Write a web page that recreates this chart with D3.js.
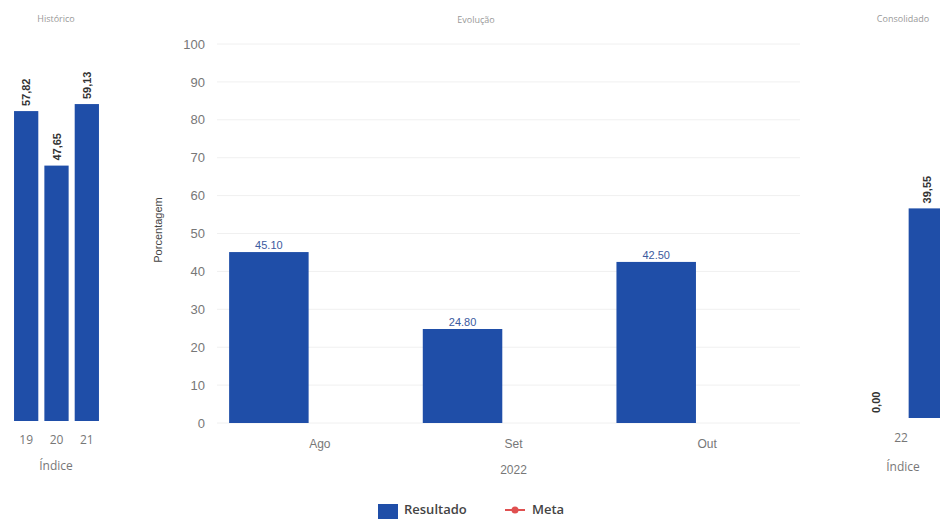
<!DOCTYPE html>
<html><head><meta charset="utf-8">
<script src="https://cdn.jsdelivr.net/npm/d3@7"></script>
<style>
html,body{margin:0;padding:0;background:#fff;}
svg{display:block;}
</style></head>
<body>
<svg id="chart" width="940" height="519"></svg>
<script>
// ---- data ----
const historicoCategories = ["19", "20", "21"];
const historicoValues = [57.82, 47.65, 59.13];

const evolucaoCategories = ["Ago", "Set", "Out"];
const evolucaoSeries = ["Resultado", "Meta"];
const evolucaoResultado = [45.10, 24.80, 42.50];
const evolucaoTicks = [0, 10, 20, 30, 40, 50, 60, 70, 80, 90, 100];
const evolucaoYear = "2022";

const consolidadoCategories = ["22"];
const consolidadoSeries = ["Serie1", "Serie2"];
const consolidadoValues = [0.00, 39.55];

const titles = ["Histórico", "Evolução", "Consolidado"];
const legendItems = ["Resultado", "Meta"];

// ---- styles ----
const BLUE = "#1f4ea8";
const svg = d3.select("#chart");
const fmtComma = d => d.toFixed(2).replace(".", ",");
const fmtDot = d => d.toFixed(2);

// ---- Histórico (left) ----
const xL = d3.scaleBand().domain(historicoCategories).range([11, 102]).paddingInner(0.2).paddingOuter(0.1);
const yL = d3.scaleLinear().domain([0, 70]).range([421, 421 - 70 * 5.36]);
const gL = svg.append("g");
gL.append("text").attr("x", 56).attr("y", 22).attr("text-anchor", "middle")
  .attr("font-family", "Open Sans, sans-serif").attr("font-size", 9).attr("fill", "#999").text(titles[0]);
gL.selectAll("rect").data(historicoValues).join("rect")
  .attr("x", (d, i) => xL(historicoCategories[i])).attr("width", xL.bandwidth())
  .attr("y", d => yL(d)).attr("height", d => yL(0) - yL(d)).attr("fill", BLUE);
gL.selectAll("text.lbl").data(historicoValues).join("text").attr("class", "lbl")
  .attr("transform", (d, i) => `translate(${xL(historicoCategories[i]) + xL.bandwidth() / 2 + 4},${yL(d) - 5}) rotate(-90)`)
  .attr("font-family", "Liberation Sans, Arial, sans-serif").attr("font-weight", "bold").attr("font-size", 11)
  .attr("fill", "#333").text(fmtComma);
const axL = gL.append("g").attr("transform", `translate(0,${yL(0)})`)
  .call(d3.axisBottom(xL).tickSize(0).tickPadding(14));
axL.select(".domain").remove();
axL.selectAll("text").attr("font-family", "Open Sans, sans-serif").attr("font-size", 12).attr("fill", "#777");
gL.append("text").attr("x", 56).attr("y", 470).attr("text-anchor", "middle")
  .attr("font-family", "Open Sans, sans-serif").attr("font-size", 12).attr("fill", "#777").text("Índice");

// ---- Evolução (middle) ----
const xM = d3.scaleBand().domain(evolucaoCategories).range([223, 804]);
const x1M = d3.scaleBand().domain(evolucaoSeries).range([0, xM.bandwidth()]).paddingInner(0.22).paddingOuter(0.06);
const yM = d3.scaleLinear().domain([0, 100]).range([423, 44]);
const gM = svg.append("g");
gM.append("text").attr("x", 476).attr("y", 23).attr("text-anchor", "middle")
  .attr("font-family", "Open Sans, sans-serif").attr("font-size", 9).attr("fill", "#999").text(titles[1]);
// grid
gM.selectAll("line.grid").data(evolucaoTicks).join("line").attr("class", "grid")
  .attr("x1", 217).attr("x2", 800).attr("y1", d => yM(d)).attr("y2", d => yM(d))
  .attr("stroke", "#f0f0f0").attr("stroke-width", 1);
const ayM = gM.append("g").attr("transform", "translate(205,0)")
  .call(d3.axisLeft(yM).tickValues(evolucaoTicks).tickSize(0).tickPadding(0));
ayM.select(".domain").remove();
ayM.selectAll("text").attr("font-family", "Liberation Sans, Arial, sans-serif").attr("font-size", 13).attr("fill", "#777");
gM.append("text").attr("transform", "translate(162,230) rotate(-90)").attr("text-anchor", "middle")
  .attr("font-family", "Liberation Sans, Arial, sans-serif").attr("font-size", 11).attr("fill", "#444").text("Porcentagem");
gM.selectAll("rect").data(evolucaoResultado).join("rect")
  .attr("x", (d, i) => xM(evolucaoCategories[i]) + x1M("Resultado")).attr("width", x1M.bandwidth())
  .attr("y", d => yM(d)).attr("height", d => yM(0) - yM(d)).attr("fill", BLUE);
gM.selectAll("text.lbl").data(evolucaoResultado).join("text").attr("class", "lbl")
  .attr("x", (d, i) => xM(evolucaoCategories[i]) + x1M("Resultado") + x1M.bandwidth() / 2)
  .attr("y", d => yM(d) - 3).attr("text-anchor", "middle")
  .attr("font-family", "Liberation Sans, Arial, sans-serif").attr("font-size", 11).attr("fill", "#3b5a9e").text(fmtDot);
const axM = gM.append("g").attr("transform", `translate(0,${yM(0)})`)
  .call(d3.axisBottom(xM).tickSize(0).tickPadding(16));
axM.select(".domain").remove();
axM.selectAll("text").attr("font-family", "Liberation Sans, Arial, sans-serif").attr("font-size", 12).attr("fill", "#777");
gM.append("text").attr("x", (xM.range()[0] + xM.range()[1]) / 2).attr("y", 474).attr("text-anchor", "middle")
  .attr("font-family", "Liberation Sans, Arial, sans-serif").attr("font-size", 12).attr("fill", "#777").text(evolucaoYear);

// legend
const lg = svg.append("g");
lg.append("rect").attr("x", 378).attr("y", 504).attr("width", 20).attr("height", 15).attr("fill", BLUE);
lg.append("text").attr("x", 404).attr("y", 514).attr("font-family", "Open Sans, sans-serif")
  .attr("font-weight", 600).attr("font-size", 13).attr("fill", "#444").text(legendItems[0]);
lg.append("line").attr("x1", 505).attr("x2", 525).attr("y1", 510).attr("y2", 510).attr("stroke", "#e05050").attr("stroke-width", 2);
lg.append("circle").attr("cx", 515).attr("cy", 510).attr("r", 3.5).attr("fill", "#e05050");
lg.append("text").attr("x", 532).attr("y", 514).attr("font-family", "Open Sans, sans-serif")
  .attr("font-weight", 600).attr("font-size", 13).attr("fill", "#444").text(legendItems[1]);

// ---- Consolidado (right) ----
const xR = d3.scaleBand().domain(consolidadoCategories).range([850, 952]);
const x1R = d3.scaleBand().domain(consolidadoSeries).range([0, xR.bandwidth()]).paddingInner(0.3).paddingOuter(0.15);
const yR = d3.scaleLinear().domain([0, 70]).range([418, 418 - 70 * 5.3]);
const gR = svg.append("g");
gR.append("text").attr("x", 903).attr("y", 22).attr("text-anchor", "middle")
  .attr("font-family", "Open Sans, sans-serif").attr("font-size", 9).attr("fill", "#999").text(titles[2]);
gR.selectAll("rect").data(consolidadoValues).join("rect")
  .attr("x", (d, i) => xR("22") + x1R(consolidadoSeries[i])).attr("width", x1R.bandwidth())
  .attr("y", d => yR(d)).attr("height", d => yR(0) - yR(d)).attr("fill", BLUE);
gR.selectAll("text.lbl").data(consolidadoValues).join("text").attr("class", "lbl")
  .attr("transform", (d, i) => `translate(${xR("22") + x1R(consolidadoSeries[i]) + x1R.bandwidth() / 2 + 4},${yR(d) - 5}) rotate(-90)`)
  .attr("font-family", "Liberation Sans, Arial, sans-serif").attr("font-weight", "bold").attr("font-size", 11)
  .attr("fill", "#333").text(fmtComma);
const axR = gR.append("g").attr("transform", `translate(0,${yR(0)})`)
  .call(d3.axisBottom(xR).tickSize(0).tickPadding(15));
axR.select(".domain").remove();
axR.selectAll("text").attr("font-family", "Open Sans, sans-serif").attr("font-size", 12).attr("fill", "#777");
gR.append("text").attr("x", 903).attr("y", 471).attr("text-anchor", "middle")
  .attr("font-family", "Open Sans, sans-serif").attr("font-size", 12).attr("fill", "#777").text("Índice");
</script>
</body></html>
